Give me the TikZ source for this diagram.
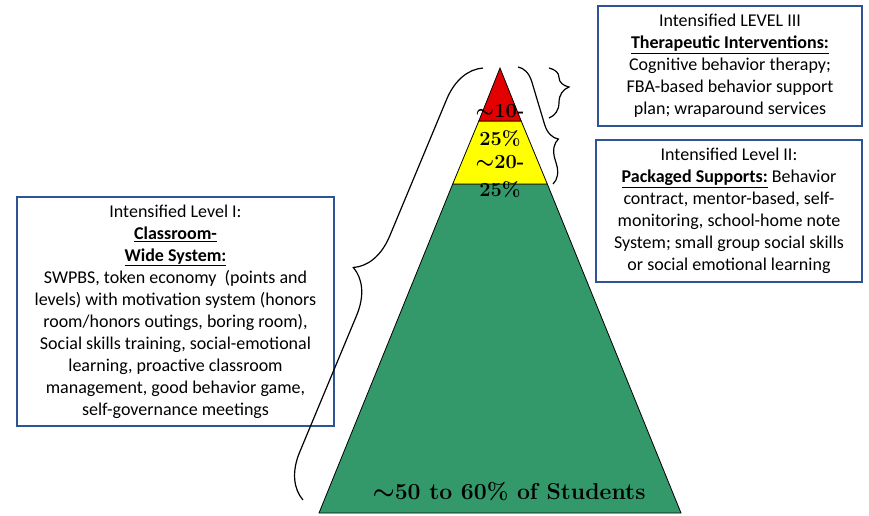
\documentclass[tikz,border=0pt]{standalone}
\usepackage{fontspec}
\usetikzlibrary{decorations.pathreplacing}
\newfontfamily\boxfont{Carlito}

\definecolor{lv-RedColor}{rgb}{0.89,0.0,0.0}
\definecolor{lv-YellowColor}{rgb}{1.0,1.0,0.0}
\definecolor{lv-GreenColor}{rgb}{0.2,0.6,0.42}
\definecolor{lv-BorderColor}{rgb}{0.18,0.33,0.59}
\tikzstyle{lv-box}=[rectangle,
                    draw=lv-BorderColor,
                    line width=1.3pt,
                    align=center,
                    inner sep=0pt,
                    font=\boxfont\fontsize{18}{22}\selectfont,
                   ]
\tikzstyle{lv-tier}=[draw=black, line width=0.8pt]
\tikzstyle{lv-label}=[font=\bfseries\boldmath\fontsize{20}{28}\selectfont, align=center, inner sep=0pt]
\tikzstyle{lv-brace}=[decorate, decoration={brace}, line width=1.2pt]

\begin{document}
\begin{tikzpicture}[x=1pt, y=-1pt]
    \useasboundingbox (0,0) rectangle (869,515);

    % Pyramid
    % --------------------------------------------------------------------------
    \coordinate (apex)   at (500,   68);
    \coordinate (red_l)  at (478.8, 121);
    \coordinate (red_r)  at (521.2, 121);
    \coordinate (yel_l)  at (452.7, 184);
    \coordinate (yel_r)  at (547.3, 184);
    \coordinate (base_l) at (319,   513);
    \coordinate (base_r) at (681,   513);

    \draw[lv-tier, fill=lv-GreenColor]  (yel_l) -- (yel_r) -- (base_r) -- (base_l) -- cycle;
    \draw[lv-tier, fill=lv-YellowColor] (red_l) -- (red_r) -- (yel_r) -- (yel_l) -- cycle;
    \draw[lv-tier, fill=lv-RedColor]    (apex) -- (red_r) -- (red_l) -- cycle;

    \node at (500, 125)   (label_top)  [lv-label] {$\sim$10-\\25\%};
    \node at (500, 176)   (label_mid)  [lv-label] {$\sim$20-\\25\%};
    \node at (509, 492)   (label_base) [lv-label, font=\bfseries\boldmath\fontsize{23}{29}\selectfont]
        {$\sim$\oldstylenums{50} to \oldstylenums{60}\% of Students};

    % Boxes
    % --------------------------------------------------------------------------
    \node at (730,   66)   (level3_box) [lv-box, minimum width=264pt, minimum height=120pt]
        {Intensified LEVEL III\\
         \underline{\textbf{Therapeutic Interventions:}}\\
         Cognitive behavior therapy;\\
         FBA-based behavior support\\
         plan; wraparound services};
    \node at (729,   211)  (level2_box) [lv-box, minimum width=266pt, minimum height=142pt]
        {Intensified Level II:\\
         \underline{\textbf{Packaged Supports:}} Behavior\\
         contract, mentor-based, self-\\
         monitoring, school-home note\\
         System; small group social skills\\
         or social emotional learning};
    \node at (175.5, 311.5) (level1_box) [lv-box, minimum width=317pt, minimum height=229pt]
        {Intensified Level I:\\
         \underline{\textbf{Classroom-}}\\
         \underline{\textbf{Wide System:}}\\
         SWPBS, token economy~ (points and\\
         levels) with motivation system (honors\\
         room/honors outings, boring room),\\
         Social skills training, social-emotional\\
         learning, proactive classroom\\
         management, good behavior game,\\
         self-governance meetings};

    % Braces
    % --------------------------------------------------------------------------
    \draw[lv-brace, decoration={amplitude=20pt, aspect=0.38}] (549,68) -- (549,118);
    \draw[lv-brace, decoration={amplitude=18pt, aspect=0.66}] (518,67) -- (553,184);
    \draw[lv-brace, decoration={amplitude=43pt, aspect=0.5}]  (303,500) -- (483,68);

\end{tikzpicture}
\end{document}
